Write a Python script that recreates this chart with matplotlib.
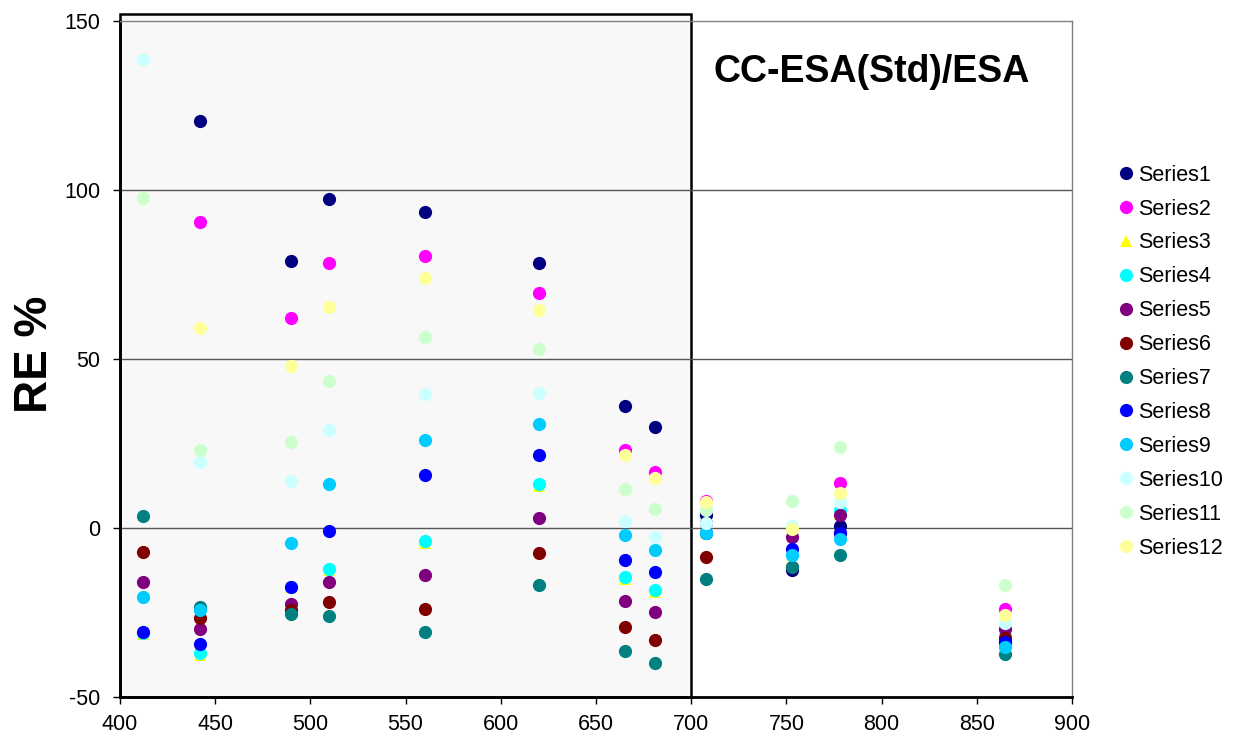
import numpy as np
import matplotlib
matplotlib.use("Agg")
import matplotlib.pyplot as plt
from matplotlib.patches import Rectangle

plt.rcParams['font.family'] = ['Liberation Sans', 'DejaVu Sans']
plt.rcParams['axes.unicode_minus'] = False

nan = np.nan
wavelengths = [412, 442, 490, 510, 560, 620, 665, 681, 708, 753, 778, 865]

series1 = [nan, 120.5, 79.0, 97.4, 93.4, 78.4, 36.0, 29.9, 3.8, -12.4, 0.7, -33.5]
series2 = [nan, 90.4, 62.0, 78.4, 80.4, 69.5, 23.0, 16.6, 8.0, 0.0, 13.2, -24.0]
series3 = [-31.5, -37.5, -17.5, -12.5, -4.5, 12.5, -15.0, -19.0, -1.5, -8.0, 4.0, -31.6]
series4 = [-31.0, -37.0, -17.5, -12.0, -3.9, 13.1, -14.5, -18.4, -1.5, -8.0, 5.3, -32.0]
series5 = [-16.0, -29.9, -22.4, -16.0, -13.9, 3.0, -21.5, -24.9, 1.5, -2.6, 3.8, -29.9]
series6 = [-7.0, -26.5, -24.2, -22.0, -23.9, -7.5, -29.4, -33.0, -8.5, -11.6, -1.5, -32.6]
series7 = [3.5, -23.5, -25.5, -26.0, -30.9, -17.0, -36.5, -40.0, -15.0, -11.6, -8.0, -37.2]
series8 = [-30.9, -34.4, -17.5, -1.0, 15.6, 21.6, -9.4, -13.0, -1.5, -6.3, -1.6, -33.6]
series9 = [-20.4, -24.4, -4.4, 13.0, 26.0, 30.9, -2.1, -6.5, -1.6, -8.0, -3.3, -35.2]
series10 = [138.8, 19.5, 14.0, 28.9, 39.5, 40.0, 2.1, -2.6, 1.4, 0.7, 7.6, -28.0]
series11 = [97.5, 23.0, 25.5, 43.5, 56.5, 52.9, 11.5, 5.5, 5.3, 8.1, 24.0, -17.0]
series12 = [nan, 59.3, 48.0, 65.5, 73.9, 64.5, 21.6, 14.9, 7.6, -0.3, 10.5, -25.7]

series_names = ["Series1", "Series2", "Series3", "Series4", "Series5", "Series6",
                "Series7", "Series8", "Series9", "Series10", "Series11", "Series12"]
series_values = [series1, series2, series3, series4, series5, series6,
                 series7, series8, series9, series10, series11, series12]
colors = ["#000080", "#FF00FF", "#FFFF00", "#00FFFF", "#800080", "#800000",
          "#008080", "#0000FF", "#00CCFF", "#CCFFFF", "#CCFFCC", "#FFFF99"]
markers = ["o", "o", "^", "o", "o", "o", "o", "o", "o", "o", "o", "o"]

fig = plt.figure(figsize=(12.41, 7.40), dpi=100)
ax = fig.add_axes([120/1241, 1-697/740, (1072-120)/1241, (697-21)/740])

ax.set_xlim(400, 900)
ax.set_ylim(-50, 150)

# shaded box 400-700 nm
rect = Rectangle((400, -50), 300, 202, facecolor="#F8F8F8", edgecolor="black",
                 linewidth=1.8, zorder=0, clip_on=False)
ax.add_patch(rect)

for yv in [0, 50, 100]:
    ax.axhline(yv, color="#555555", linewidth=1.0, zorder=1)

for name, vals, c, m in zip(series_names, series_values, colors, markers):
    ax.plot(wavelengths, vals, linestyle="none", marker=m, color=c,
            markersize=9.5 if m == "o" else 8.5, markeredgewidth=0,
            label=name, zorder=3)

ax.set_xticks(np.arange(400, 901, 50))
ax.set_yticks([-50, 0, 50, 100, 150])
ax.tick_params(axis="both", direction="out", length=5, width=1, labelsize=15.5, colors="black")
ax.tick_params(axis="x", pad=7)
ax.tick_params(axis="y", pad=9)

for s in ["top", "right"]:
    ax.spines[s].set_color("#808080")
    ax.spines[s].set_linewidth(1.0)
for s in ["left", "bottom"]:
    ax.spines[s].set_color("black")
    ax.spines[s].set_linewidth(2.0)

fig.text(35/1241, 1-354/740, "RE %", fontsize=33, fontweight="bold",
         rotation=90, ha="center", va="center")

fig.text(872/1241, 1-72/740, "CC-ESA(Std)/ESA", fontsize=27, fontweight="bold",
         ha="center", va="center")

leg = ax.legend(loc="upper left", bbox_to_anchor=(1108/1241, 1-156/740),
                bbox_transform=fig.transFigure, frameon=False, fontsize=15.5,
                handlelength=0.9, handletextpad=0.08, labelspacing=0.6,
                borderaxespad=0, numpoints=1)

fig.savefig("out.png", dpi=100)
